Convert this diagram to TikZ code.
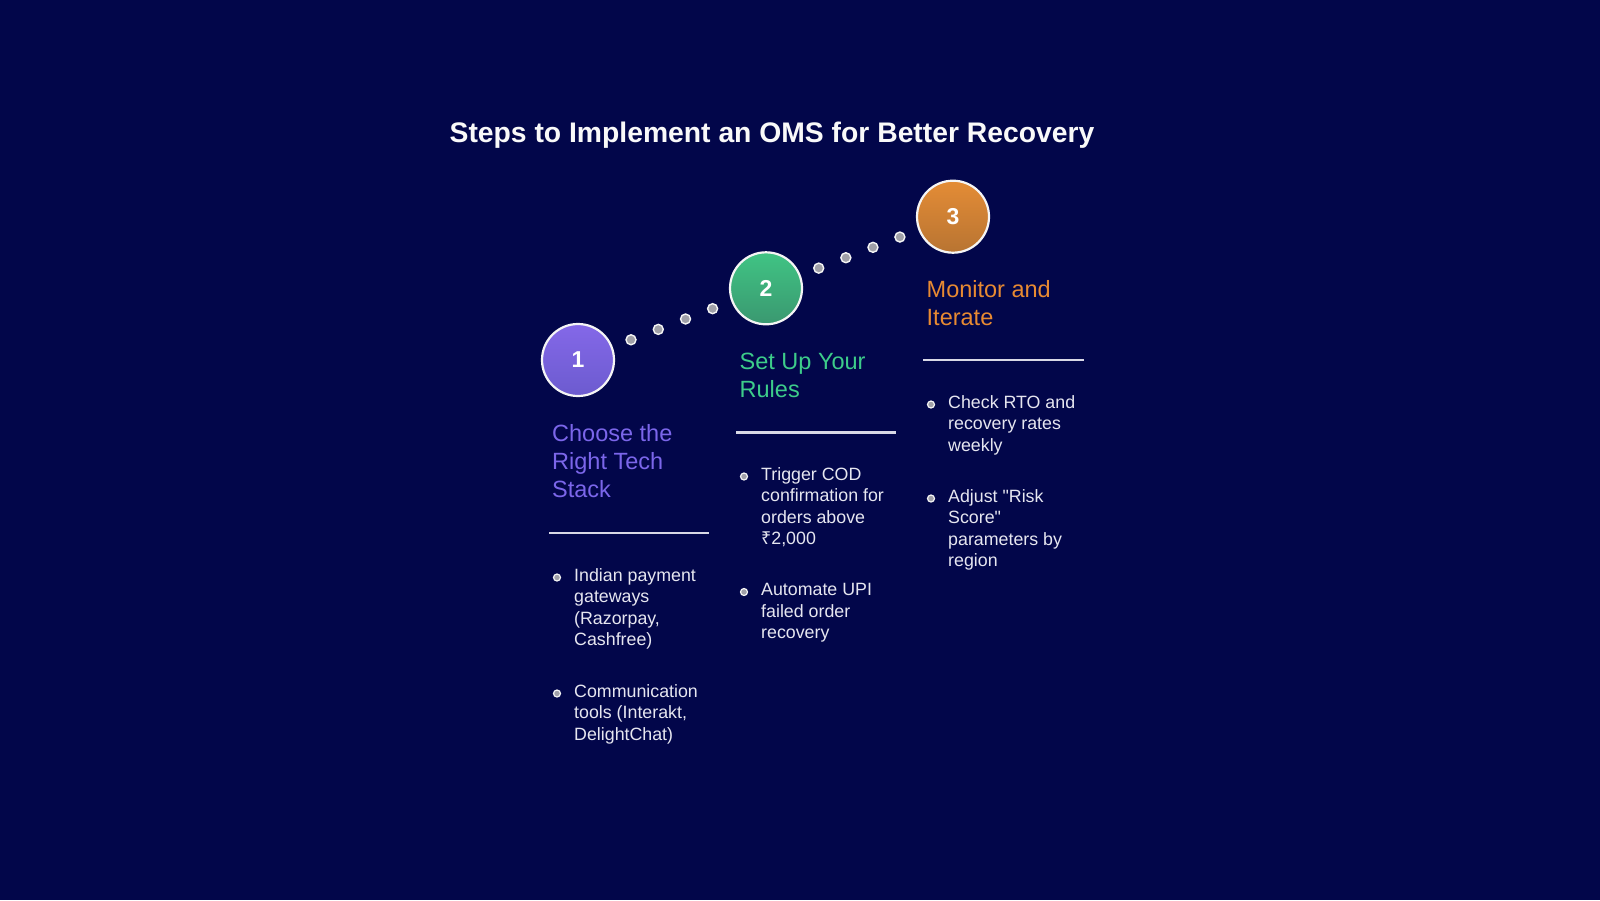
\documentclass[tikz,border=0pt]{standalone}
\usepackage{fontspec}
\setmainfont{Liberation Sans}
\newfontfamily\plainsans{Liberation Sans}
\newfontfamily\rupeefont{Noto Sans}
\usetikzlibrary{calc}
\definecolor{bg}{HTML}{02064A}
\definecolor{purpleA}{HTML}{8468E8}
\definecolor{purpleB}{HTML}{6C5BCF}
\definecolor{greenA}{HTML}{40C484}
\definecolor{greenB}{HTML}{3A9870}
\definecolor{orangeA}{HTML}{E48C36}
\definecolor{orangeB}{HTML}{B87432}
\definecolor{purpleT}{HTML}{7B66EA}
\definecolor{greenT}{HTML}{3DCC8A}
\definecolor{orangeT}{HTML}{E88A32}
\definecolor{bodywhite}{HTML}{E6E6F0}
\definecolor{dotgray}{HTML}{A0A0A8}
\definecolor{rulecol}{HTML}{D8D8E6}
\tikzset{
  stepcircle/.style={circle, minimum size=72pt, inner sep=0pt, draw=white!92!gray, line width=2.2pt,
    text=white, font=\fontsize{23}{23}\selectfont\bfseries},
  linkdot/.style={circle, minimum size=10pt, inner sep=0pt, fill=dotgray, draw=white!92!gray, line width=1.4pt},
  bulletdot/.style={circle, minimum size=7pt, inner sep=0pt, fill=dotgray, draw=white!92!gray, line width=1.2pt},
  steptitle/.style={anchor=base west, align=left, inner sep=0pt, font=\fontsize{23.5}{28.3}\selectfont},
  bodytext/.style={anchor=base west, align=left, inner sep=0pt, text=bodywhite, font=\plainsans\fontsize{17.8}{21.5}\selectfont},
  rulestyle/.style={draw=rulecol, line width=2.4pt},
}
\begin{document}
\begin{tikzpicture}[x=1pt,y=-1pt]
\fill[bg] (0,0) rectangle (1600,900);
\useasboundingbox (0,0) rectangle (1600,900);

% title
\node[anchor=base, inner sep=0pt, text=white!95!gray, font=\fontsize{28.3}{28.3}\selectfont\bfseries]
  (title) at (772,142) {Steps to Implement an OMS for Better Recovery};

% circles
\node[stepcircle, top color=purpleA, bottom color=purpleB] (c1) at (578,360) {1};
\node[stepcircle, top color=greenA, bottom color=greenB] (c2) at (766,288.3) {2};
\node[stepcircle, top color=orangeA, bottom color=orangeB] (c3) at (953,216.7) {3};

% dotted connectors
\foreach \t [count=\i] in {0.282,0.427,0.572,0.716}{
  \node[linkdot] (da\i) at ($(c1)!\t!(c2)$) {};
  \node[linkdot] (db\i) at ($(c2)!\t!(c3)$) {};
}

% step titles (anchored at the baseline of their last line)
\node[steptitle, text=purpleT] (t1) at (552,497.6) {Choose the\\Right Tech\\Stack};
\node[steptitle, text=greenT] (t2) at (739.5,397.6) {Set Up Your\\Rules};
\node[steptitle, text=orangeT] (t3) at (926.5,325.6) {Monitor and\\Iterate};

% rules
\coordinate (r1a) at (549,533); \coordinate (r1b) at (708.5,533);
\coordinate (r2a) at (736,432.3); \coordinate (r2b) at (896,432.3);
\coordinate (r3a) at (923.3,360); \coordinate (r3b) at (1083.5,360);
\draw[rulestyle] (r1a) -- (r1b);
\draw[rulestyle] (r2a) -- (r2b);
\draw[rulestyle] (r3a) -- (r3b);

% bullets step 1
\node[bulletdot] (p11) at (557,577.5) {};
\node[bodytext] (b11) at (574,645.5) {Indian payment\\gateways\\(Razorpay,\\Cashfree)};
\node[bulletdot] (p12) at (557,693.5) {};
\node[bodytext] (b12) at (574,740) {Communication\\tools (Interakt,\\DelightChat)};

% bullets step 2
\node[bulletdot] (p21) at (744,476.5) {};
\node[bodytext] (b21) at (761,544.5) {Trigger COD\\confirmation for\\orders above\\{\rupeefont ₹}2,000};
\node[bulletdot] (p22) at (744,592) {};
\node[bodytext] (b22) at (761,638.5) {Automate UPI\\failed order\\recovery};

% bullets step 3
\node[bulletdot] (p31) at (931,404.5) {};
\node[bodytext] (b31) at (948,451) {Check RTO and\\recovery rates\\weekly};
\node[bulletdot] (p32) at (931,498.5) {};
\node[bodytext] (b32) at (948,566.5) {Adjust "Risk\\Score"\\parameters by\\region};
\end{tikzpicture}
\end{document}
